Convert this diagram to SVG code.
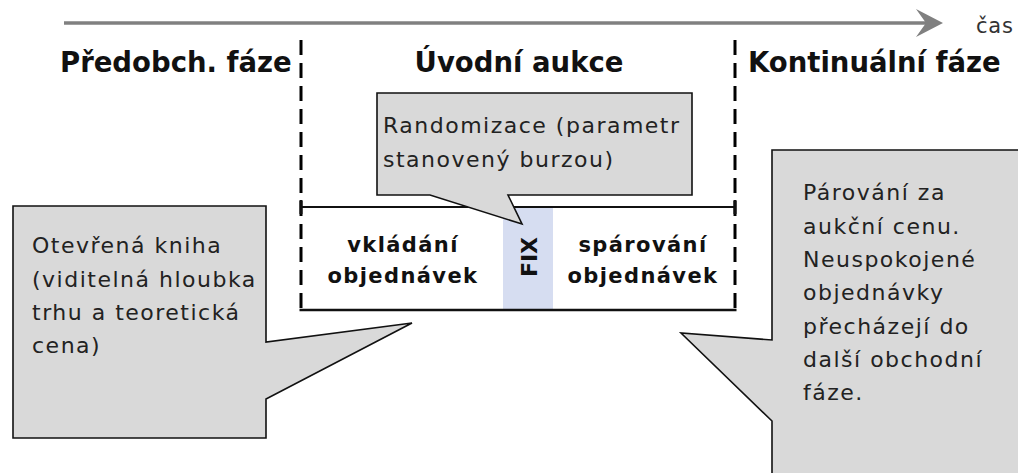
<svg xmlns="http://www.w3.org/2000/svg" width="1018" height="473" viewBox="0 0 1018 473">
<style>
.h{font-family:"DejaVu Sans",sans-serif;font-weight:bold;font-size:27.5px;fill:#111}
.b{font-family:"DejaVu Sans",sans-serif;font-weight:bold;font-size:21px;fill:#111;letter-spacing:1.4px;text-anchor:middle}
.t{font-family:"DejaVu Sans",sans-serif;font-size:22px;fill:#222;letter-spacing:1.5px}
.call{fill:#d9d9d9;stroke:#111;stroke-width:1.6;stroke-linejoin:miter}
.dash{stroke:#000;stroke-width:3;stroke-dasharray:15 8;fill:none}
</style>
<rect width="1018" height="473" fill="#fff"/>
<g id="connectors">
<line x1="64" y1="23" x2="930" y2="23" stroke="#808080" stroke-width="3.5"/>
<polygon points="916,9 943,23 916,37 926,23" fill="#808080"/>
<line class="dash" x1="301" y1="40" x2="301" y2="310"/>
<line class="dash" x1="735" y1="40" x2="735" y2="310"/>
</g>
<text x="976" y="33" font-family="DejaVu Sans, sans-serif" font-size="21px" fill="#333" letter-spacing="0.8">čas</text>
<g id="headings">
<text class="h" x="60" y="72">Předobch. fáze</text>
<text class="h" x="519" y="72" text-anchor="middle">Úvodní aukce</text>
<text class="h" x="748" y="72">Kontinuální fáze</text>
</g>
<g id="auction-box">
<rect x="503" y="207" width="50" height="103" fill="#d6ddf1"/>
<line x1="301" y1="207" x2="735" y2="207" stroke="#111" stroke-width="2"/>
<line x1="299.5" y1="310" x2="736.5" y2="310" stroke="#111" stroke-width="2.5"/>
<line x1="301" y1="200" x2="301" y2="214" stroke="#111" stroke-width="3"/>
<line x1="735" y1="200" x2="735" y2="214" stroke="#111" stroke-width="3"/>
<text class="b" x="403" y="252">vkládání</text>
<text class="b" x="403" y="283">objednávek</text>
<text class="b" x="643" y="252">spárování</text>
<text class="b" x="643" y="283">objednávek</text>
<text x="0" y="0" transform="translate(537 257) rotate(-90)" font-family="DejaVu Sans, sans-serif" font-weight="bold" font-size="22px" fill="#111" text-anchor="middle">FIX</text>
</g>
<g id="callout-randomizace">
<path class="call" d="M377,93 H692 V195 H508 L522,224 L430,195 H377 Z"/>
<text class="t" x="383" y="133">Randomizace (parametr</text>
<text class="t" x="383" y="167">stanovený burzou)</text>
</g>
<g id="callout-otevrena">
<path class="call" d="M13,206 H266 V342 L412,323 L266,399 V438 H13 Z"/>
<text class="t" x="32" y="253">Otevřená kniha</text>
<text class="t" x="32" y="287">(viditelná hloubka</text>
<text class="t" x="32" y="320">trhu a teoretická</text>
<text class="t" x="32" y="353">cena)</text>
</g>
<g id="callout-parovani">
<path class="call" d="M772,150 H1030 V490 H772 V421 L681,333 L772,340 Z"/>
<text class="t" x="803" y="200">Párování za</text>
<text class="t" x="803" y="234">aukční cenu.</text>
<text class="t" x="803" y="267">Neuspokojené</text>
<text class="t" x="803" y="300">objednávky</text>
<text class="t" x="803" y="334">přecházejí do</text>
<text class="t" x="803" y="367">další obchodní</text>
<text class="t" x="803" y="400">fáze.</text>
</g>
</svg>
